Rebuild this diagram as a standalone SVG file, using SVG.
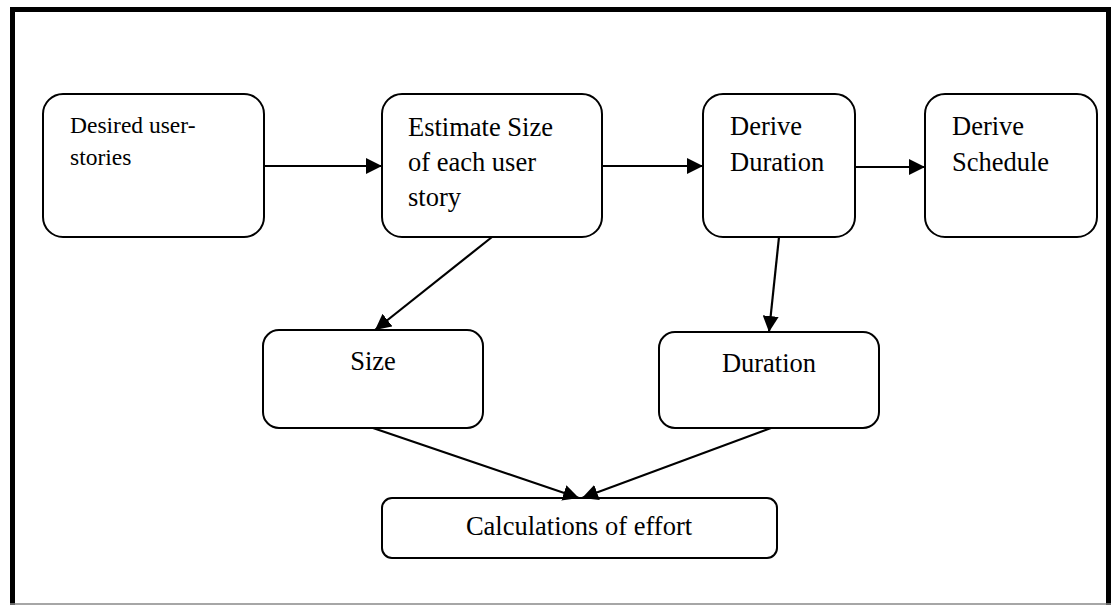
<svg xmlns="http://www.w3.org/2000/svg" width="1113" height="605" viewBox="0 0 1113 605">
  <style>
    .box { fill: #ffffff; stroke: #000000; stroke-width: 2; }
    .lbl { font-family: 'Liberation Serif', 'Times New Roman', serif; font-size: 26.5px; fill: #000000; }
    .small { font-size: 23.5px; }
    .conn { stroke: #000000; stroke-width: 2.2; fill: none; marker-end: url(#arrow); }
  </style>
  <defs>
    <marker id="arrow" markerUnits="userSpaceOnUse" markerWidth="18" markerHeight="16" refX="16" refY="8" orient="auto">
      <path d="M0,0 L16,8 L0,16 Z" fill="#000000"/>
    </marker>
  </defs>

  <rect x="0" y="0" width="1113" height="605" fill="#ffffff"/>

  <!-- page frame -->
  <g id="frame">
    <line x1="12.5" y1="7" x2="12.5" y2="605" stroke="#000" stroke-width="5"/>
    <line x1="10" y1="9.5" x2="1111" y2="9.5" stroke="#000" stroke-width="5"/>
    <line x1="1108.5" y1="7" x2="1108.5" y2="605" stroke="#000" stroke-width="5"/>
    <line x1="10" y1="604" x2="1111" y2="604" stroke="#888" stroke-width="1.5"/>
  </g>

  <g id="desired">
    <rect class="box" x="43" y="94" width="221" height="143" rx="20"/>
    <text class="lbl small" x="70" y="133">Desired user-</text>
    <text class="lbl small" x="70" y="165">stories</text>
  </g>

  <g id="estimate">
    <rect class="box" x="382" y="94" width="220" height="143" rx="20"/>
    <text class="lbl" x="408" y="136">Estimate Size</text>
    <text class="lbl" x="408" y="171">of each user</text>
    <text class="lbl" x="408" y="206">story</text>
  </g>

  <g id="derive-duration">
    <rect class="box" x="703" y="94" width="152" height="143" rx="20"/>
    <text class="lbl" x="730" y="135">Derive</text>
    <text class="lbl" x="730" y="171">Duration</text>
  </g>

  <g id="derive-schedule">
    <rect class="box" x="925" y="94" width="172" height="143" rx="20"/>
    <text class="lbl" x="952" y="135">Derive</text>
    <text class="lbl" x="952" y="171">Schedule</text>
  </g>

  <g id="size">
    <rect class="box" x="263" y="330" width="220" height="98" rx="16"/>
    <text class="lbl" x="373" y="370" text-anchor="middle">Size</text>
  </g>

  <g id="duration">
    <rect class="box" x="659" y="332" width="220" height="96" rx="16"/>
    <text class="lbl" x="769" y="372" text-anchor="middle">Duration</text>
  </g>

  <g id="effort">
    <rect class="box" x="382" y="498" width="395" height="60" rx="10"/>
    <text class="lbl" x="579" y="535" text-anchor="middle">Calculations of effort</text>
  </g>

  <g id="connectors">
    <line class="conn" x1="264" y1="166" x2="382" y2="166"/>
    <line class="conn" x1="602" y1="166" x2="703" y2="166"/>
    <line class="conn" x1="855" y1="167" x2="925" y2="167"/>
    <line class="conn" x1="492" y1="237" x2="375" y2="330"/>
    <line class="conn" x1="779" y1="237" x2="769" y2="332"/>
    <line class="conn" x1="373" y1="428" x2="579" y2="498"/>
    <line class="conn" x1="771" y1="428" x2="582" y2="498"/>
  </g>
</svg>
